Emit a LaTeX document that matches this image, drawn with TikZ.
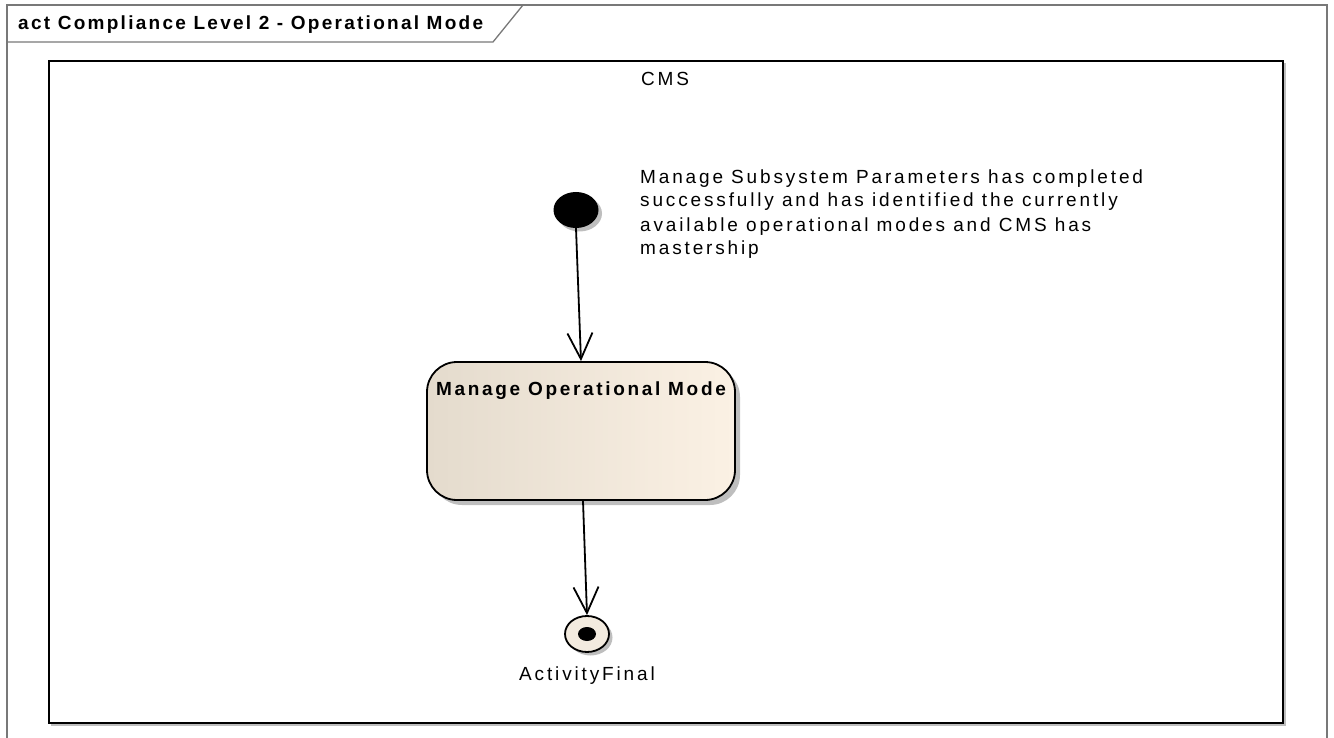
\documentclass[tikz,border=0pt]{standalone}
\usepackage{fontspec}
\setmainfont{Liberation Sans}
\newfontfamily\eafont[LetterSpace=15]{Liberation Sans}
\newfontfamily\eaboldfont[LetterSpace=14]{Liberation Sans Bold}
\newfontfamily\eatitlefont[LetterSpace=12]{Liberation Sans Bold}
\usetikzlibrary{shapes.geometric,arrows.meta,shadows}
\definecolor{framegray}{RGB}{120,120,120}
\definecolor{shadowgray}{RGB}{190,190,190}
\definecolor{actleft}{RGB}{228,219,205}
\definecolor{actright}{RGB}{251,241,228}
\definecolor{finfill}{RGB}{243,235,223}
\tikzset{
  eatext/.style={inner sep=0pt, font=\eafont\fontsize{19}{24}\selectfont},
  eabold/.style={inner sep=0pt, font=\eaboldfont\fontsize{19}{24}\selectfont},
  eatitle/.style={inner sep=0pt, font=\eatitlefont\fontsize{19}{24}\selectfont},
  flow/.style={line width=1.8pt, -{Straight Barb[length=26pt,width=25pt,line width=1.8pt]}},
  eashadow/.style={drop shadow={shadow xshift=3.5pt, shadow yshift=-3.5pt, fill=shadowgray, opacity=1}},
}
\begin{document}
\begin{tikzpicture}[x=1pt,y=-1pt]
\useasboundingbox (0,0) rectangle (1334,738);
% outer frame
\draw[framegray, line width=1.3pt] (7,745) -- (7,5) -- (1327,5) -- (1327,745);
\draw[framegray, line width=1.3pt] (7,42) -- (493,42) -- (523,5);
\node[eatitle, anchor=base west] (title) at (18,30) {act Compliance Level 2 - Operational Mode};
% CMS partition
\draw[shadowgray, line width=1.5pt] (51,725) -- (1285,725) -- (1285,63);
\draw[black, line width=2pt] (49,61) rectangle (1283,723);
\node[eatext, anchor=base] (cms) at (665,86) {CMS};
% initial node
\node[ellipse, fill=black, minimum width=45pt, minimum height=36pt, inner sep=0pt, eashadow] (init) at (576,210) {};
% note
\node[eatext, anchor=base west, align=left] (note) at (640,255) {Manage Subsystem Parameters has completed\\successfully and has identified the currently\\available operational modes and CMS has\\mastership};
% action
\node[draw=black, line width=1.8pt, rounded corners=30pt, minimum width=308pt, minimum height=138pt, inner sep=0pt, left color=actleft, right color=actright, drop shadow={shadow xshift=5pt, shadow yshift=-5pt, fill=shadowgray, opacity=1}] (act) at (581,431) {};
\node[eabold, anchor=base] (actlabel) at ([yshift=-34pt]act.north) {Manage Operational Mode};
% final
\node[ellipse, draw=black, line width=1.8pt, fill=finfill, minimum width=44pt, minimum height=36pt, inner sep=0pt, eashadow] (fin) at (587,634) {};
\node[ellipse, fill=black, minimum width=18pt, minimum height=14pt, inner sep=0pt] (findot) at (fin.center) {};
\node[eatext, anchor=base] (finlabel) at (587,680) {ActivityFinal};
% flows
\draw[flow] (init.south) -- (act.north);
\draw[flow] ([xshift=2pt]act.south) -- (fin.north);
\end{tikzpicture}
\end{document}
